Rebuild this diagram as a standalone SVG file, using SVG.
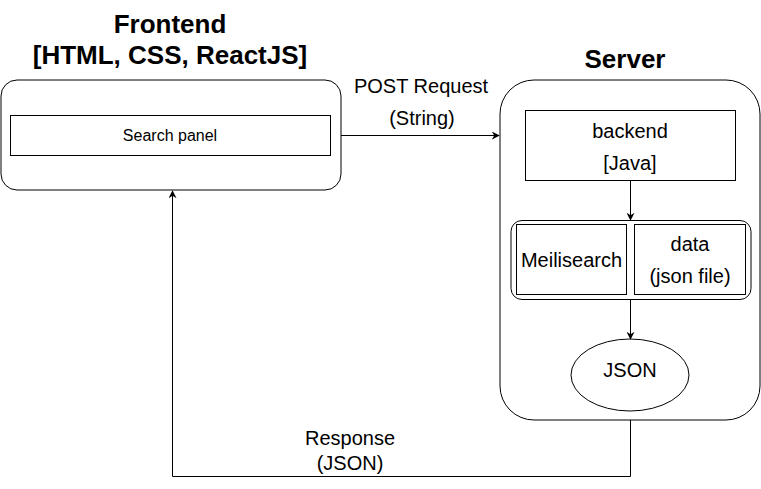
<svg xmlns="http://www.w3.org/2000/svg" width="761" height="489" viewBox="0 0 761 489">
<defs>
<style>
.box{fill:#fff;stroke:#000;stroke-width:1}
.edge{fill:none;stroke:#000;stroke-width:1}
.t{font-family:"Liberation Sans",Arial,sans-serif;fill:#000;text-anchor:middle}
.title{font-size:26px;font-weight:bold}
.lbl{font-size:20px}
.sm{font-size:16px}
</style>
<marker id="arr" viewBox="0 0 10 10" refX="9" refY="5" markerWidth="8" markerHeight="8" markerUnits="userSpaceOnUse" orient="auto">
<path d="M0,0 L10,5 L0,10 L3,5 z" fill="#000"/>
</marker>
</defs>
<rect width="761" height="489" fill="#fff"/>
<g id="frontend">
<rect class="box" x="1" y="80" width="340" height="110" rx="16" ry="16"/>
<text class="t title" x="170" y="33">Frontend</text>
<text class="t title" x="170" y="64">[HTML, CSS, ReactJS]</text>
</g>
<g id="search-panel">
<rect class="box" x="10.5" y="115.5" width="320" height="40"/>
<text class="t sm" x="170" y="141">Search panel</text>
</g>
<g id="server">
<rect class="box" x="500" y="80" width="260" height="340" rx="34" ry="34"/>
<text class="t title" x="625" y="68">Server</text>
</g>
<g id="backend">
<rect class="box" x="525.5" y="110.5" width="210" height="70"/>
<text class="t lbl" x="630" y="138">backend</text>
<text class="t lbl" x="630" y="170">[Java]</text>
</g>
<g id="search-engine">
<rect class="box" x="511" y="220.5" width="240" height="79" rx="11" ry="11"/>
</g>
<g id="meilisearch">
<rect class="box" x="516.5" y="224.5" width="110" height="70"/>
<text class="t lbl" x="571.5" y="267">Meilisearch</text>
</g>
<g id="data">
<rect class="box" x="634.5" y="224.5" width="111" height="70"/>
<text class="t lbl" x="690" y="251">data</text>
<text class="t lbl" x="690" y="283">(json file)</text>
</g>
<g id="json">
<ellipse class="box" cx="630" cy="375" rx="59" ry="36"/>
<text class="t lbl" x="630" y="377">JSON</text>
</g>
<g id="connectors">
<path class="edge" d="M341,135.5 L499,135.5" marker-end="url(#arr)"/>
<path class="edge" d="M630.5,180.5 L630.5,220" marker-end="url(#arr)"/>
<path class="edge" d="M630.5,299.5 L630.5,339" marker-end="url(#arr)"/>
<path class="edge" d="M630.5,420 L630.5,476.5 L172.5,476.5 L172.5,191" marker-end="url(#arr)"/>
<text class="t lbl" x="421" y="93">POST Request</text>
<text class="t lbl" x="422" y="125">(String)</text>
<text class="t lbl" x="350" y="445">Response</text>
<text class="t lbl" x="350" y="470">(JSON)</text>
</g>
</svg>
